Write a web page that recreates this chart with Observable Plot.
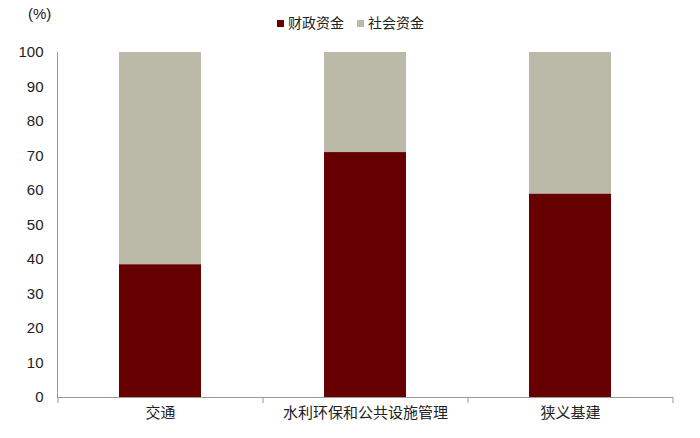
<!DOCTYPE html>
<html><head><meta charset="utf-8">
<script src="https://cdn.jsdelivr.net/npm/d3@7"></script>
<script src="https://cdn.jsdelivr.net/npm/@observablehq/plot@0.6"></script>
<style>
body{margin:0;background:#fff;}
#wrap{position:relative;width:700px;height:438px;font-family:"Liberation Sans Narrow","Liberation Sans","Noto Sans CJK SC",sans-serif;}
#unit{position:absolute;left:28px;top:5px;font-size:15px;color:#222;}
#legend{position:absolute;left:277px;top:12px;font-size:14px;color:#222;display:flex;gap:13px;font-family:"Noto Sans CJK SC",sans-serif;}
#legend span.sw{display:inline-block;width:7px;height:7px;margin-right:4px;vertical-align:1px;}
</style></head>
<body><div id="wrap"><div id="unit">(%)</div><div id="legend"></div></div>
<script>
const categories = ["交通","水利环保和公共设施管理","狭义基建"];
const series = ["财政资金","社会资金"];
const fiscal = [38.5, 71, 59];
const social = [61.5, 29, 41];
const yTicks = [0,10,20,30,40,50,60,70,80,90,100];
const colors = ["#660000","#BBBAA8"];

const data = [];
categories.forEach((c,i)=>{
  data.push({cat:c, series:series[0], value:fiscal[i]});
  data.push({cat:c, series:series[1], value:social[i]});
});

const leg = document.getElementById("legend");
series.forEach((s,i)=>{
  const d=document.createElement("div");
  d.innerHTML=`<span class="sw" style="background:${colors[i]}"></span>${s}`;
  leg.appendChild(d);
});

const half = 102.5;
const chart = Plot.plot({
  width:700, height:438,
  marginLeft:57, marginRight:27, marginTop:52, marginBottom:41,
  style:{fontFamily:"'Liberation Sans Narrow','Liberation Sans','Noto Sans CJK SC',sans-serif", fontSize:"14px", color:"#222", background:"transparent"},
  x:{domain:categories, paddingInner:0.6, paddingOuter:0.3, label:null},
  y:{domain:[0,100], label:null},
  color:{domain:series, range:colors},
  marks:[
    Plot.barY(data,{x:"cat", y:"value", fill:"series", order:series}),
    Plot.axisY({ticks:yTicks, tickSize:0, tickPadding:14, fontSize:15, label:null}),
    Plot.axisX({tickSize:0, tickPadding:10, fontSize:15, fontFamily:"Noto Sans CJK SC", label:null}),
    Plot.frame({anchor:"left", stroke:"#999"}),
    Plot.ruleY([0],{stroke:"#999"}),
    Plot.ruleX(categories,{x:d=>d, y1:0, y2:0, insetBottom:-6, dx:-half, stroke:"#999"}),
    Plot.ruleX([categories[categories.length-1]],{x:d=>d, y1:0, y2:0, insetBottom:-6, dx:half, stroke:"#999"})
  ]
});
document.getElementById("wrap").prepend(chart);
</script>
</body></html>
